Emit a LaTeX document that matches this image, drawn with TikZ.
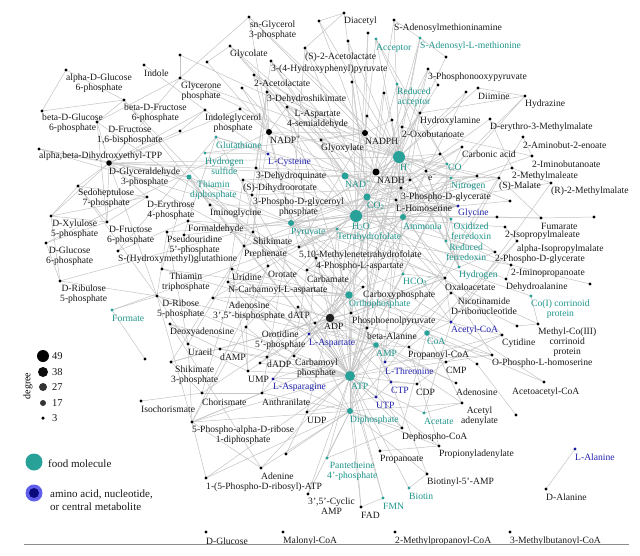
\documentclass[tikz,border=0pt]{standalone}
\usepackage{fontspec}
\setmainfont{Liberation Serif}
\definecolor{food}{RGB}{40,162,152}
\definecolor{foodtext}{RGB}{30,150,140}
\definecolor{amino}{RGB}{25,25,160}
\definecolor{aminotext}{RGB}{35,35,175}
\definecolor{edgec}{RGB}{196,196,196}
\definecolor{legblue}{RGB}{95,95,235}
\definecolor{legdark}{RGB}{10,10,125}
\pgfdeclarelayer{bg}
\pgfdeclarelayer{edges}
\pgfsetlayers{bg,edges,main}
\tikzset{
 dotb/.style={circle,inner sep=0pt,minimum size=3.2pt,fill=black},
 dott/.style={circle,inner sep=0pt,minimum size=3.2pt,fill=food},
 dotu/.style={circle,inner sep=0pt,minimum size=3.2pt,fill=amino},
 lab/.style={inner sep=0pt,anchor=west,align=center,font=\fontsize{9.6}{10}\selectfont,text=black!90},
 tlab/.style={lab,text=foodtext},
 ulab/.style={lab,text=aminotext},
 edge/.style={draw=edgec,line width=0.5pt},
}
\newcommand\metab[6]{\node[#2] (#1) at (#3) {}; \node[#4] (#1-t) at (#5) {#6};}
\begin{document}
\begin{tikzpicture}[x=1pt,y=-1pt]
\useasboundingbox (0,0) rectangle (640,555);
\begin{pgfonlayer}{bg}
\fill[white] (0,0) rectangle (640,555);
\end{pgfonlayer}
% ---------- metabolites ----------
\metab{aDG6P}{dotb}{66,70}{lab}{66,83}{alpha-D-Glucose\\6-phosphate}
\metab{indole}{dotb}{144,65}{lab}{144,73}{Indole}
\metab{glycerone}{dotb}{180,78}{lab}{181,91}{Glycerone\\phosphate}
\metab{bDF6P}{dotb}{124,100}{lab}{124,113}{beta-D-Fructose\\6-phosphate}
\metab{bDG6P}{dotb}{42,111}{lab}{42,123}{beta-D-Glucose\\6-phosphate}
\metab{DF16BP}{dotb}{97,122}{lab}{97,135}{D-Fructose\\1,6-bisphosphate}
\metab{indolegp}{dotb}{205,110}{lab}{205,123}{Indoleglycerol\\phosphate}
\metab{abDHE}{dotb}{39,149}{lab}{39,156}{alpha,beta-Dihydroxyethyl-TPP}
\metab{DGA3P}{dotb,minimum size=5.5pt}{109,163}{lab}{109,177}{D-Glyceraldehyde\\3-phosphate}
\metab{sedo}{dotb}{78,186}{lab}{78,198.5}{Sedoheptulose\\7-phosphate}
\metab{H2S}{dott}{205,153}{tlab}{205,166}{Hydrogen\\sulfide}
\metab{glutathione}{dott}{216,137}{tlab}{216,145}{Glutathione}
\metab{TDP}{dott,minimum size=5pt}{189,177}{tlab}{190,190}{Thiamin\\diphosphate}
\metab{snG3P}{dotb}{249,17}{lab}{249,30}{sn-Glycerol\\3-phosphate}
\metab{diacetyl}{dotb}{344,13}{lab}{344,21}{Diacetyl}
\metab{SAMamine}{dotb}{394,20}{lab}{394,28}{S-Adenosylmethioninamine}
\metab{acceptor}{dott}{376,39}{tlab}{376,48}{Acceptor}
\metab{SAM}{dott}{420,38}{tlab}{420,46}{S-Adenosyl-L-methionine}
\metab{S2AL}{dotb}{305,48}{lab}{305,57}{(S)-2-Acetolactate}
\metab{HPP}{dotb}{271,61}{lab}{271,69}{3-(4-Hydroxyphenyl)pyruvate}
\metab{glycolate}{dotb}{230,46}{lab}{230,54}{Glycolate}
\metab{AL2}{dotb}{254,75}{lab}{254,83}{2-Acetolactate}
\metab{DHS}{dotb}{267,92}{lab}{267,99}{3-Dehydroshikimate}
\metab{LAsa}{dotb}{287,107}{lab}{287,119.5}{L-Aspartate\\4-semialdehyde}
\metab{NADP}{dotb,minimum size=6pt}{269,132}{lab}{270,139.5}{NADP\textsuperscript{+}}
\metab{glyoxylate}{dotb}{321,140}{lab}{321,148}{Glyoxylate}
\metab{NADPH}{dotb,minimum size=6pt}{365,133}{lab}{365,141}{NADPH}
\metab{redacc}{dott}{397,84}{tlab}{397,97}{Reduced\\acceptor}
\metab{oxobut}{dotb}{402,127}{lab}{402,134}{2-Oxobutanoate}
\metab{hydroxylamine}{dotb}{420,113}{lab}{420,121}{Hydroxylamine}
\metab{Lcys}{dotu}{268,154}{ulab}{268,162}{L-Cysteine}
\metab{DHQ}{dotb}{256,168}{lab}{256,176}{3-Dehydroquinate}
\metab{DHO}{dotb}{243,180}{lab}{243,188}{(S)-Dihydroorotate}
\metab{Hplus}{dott,minimum size=12pt}{399,157}{tlab}{400,167}{H\textsuperscript{+}}
\metab{NADH}{dotb,minimum size=7pt}{376,172}{lab}{377,180}{NADH}
\metab{NADplus}{dott,minimum size=7pt}{345,176}{tlab}{345,184}{NAD\textsuperscript{+}}
\metab{PG3}{dotb}{401,188}{lab}{401,197}{3-Phospho-D-glycerate}
\metab{homoser}{dotb}{396,200}{lab}{396,208}{L-Homoserine}
\metab{carbonic}{dotb}{462,147}{lab}{462,154}{Carbonic acid}
\metab{CO}{dott}{447,164}{tlab}{448,167}{CO}
\metab{eminus}{dotb}{426,171}{lab}{428,178}{e\textsuperscript{−}}
\metab{nitrogen}{dott}{451,178}{tlab}{451,186}{Nitrogen}
\metab{malate}{dotb}{499,178}{lab}{499,186}{(S)-Malate}
\metab{mmaleate}{dotb}{512,168}{lab}{512,176}{2-Methylmaleate}
\metab{iminobut}{dotb}{532,156}{lab}{532,164}{2-Iminobutanoate}
\metab{aminobut}{dotb}{523,137}{lab}{523,145}{2-Aminobut-2-enoate}
\metab{erythro}{dotb}{490,119}{lab}{490,127}{D-erythro-3-Methylmalate}
\metab{hydrazine}{dotb}{525,96}{lab}{525,104}{Hydrazine}
\metab{diimine}{dotb}{478,88}{lab}{478,96}{Diimine}
\metab{PHP}{dotb}{428,69}{lab}{428,77}{3-Phosphonooxypyruvate}
\metab{R2MM}{dotb}{551,183}{lab}{551,191}{(R)-2-Methylmalate}
\metab{glycine}{dotu}{458,206}{ulab}{458,213}{Glycine}
\metab{fumarate}{dotb}{541,218}{lab}{541,226}{Fumarate}
\metab{IPM2}{dotb}{505,227}{lab}{505,235}{2-Isopropylmaleate}
\metab{aIPM}{dotb}{517,241}{lab}{517,249}{alpha-Isopropylmalate}
\metab{oxfd}{dott}{451,219}{tlab}{451,231}{Oxidized\\ferredoxin}
\metab{redfd}{dott}{446,241}{tlab}{446,252}{Reduced\\ferredoxin}
\metab{PG2}{dotb}{495,252}{lab}{495,259}{2-Phospho-D-glycerate}
\metab{iminoprop}{dotb}{511,265}{lab}{511,273}{2-Iminopropanoate}
\metab{hydrogen}{dott}{459,267}{tlab}{459,275}{Hydrogen}
\metab{dehydroala}{dotb}{506,279}{lab}{506,287}{Dehydroalanine}
\metab{oxaloacetate}{dotb}{445,278}{lab}{445,287}{Oxaloacetate}
\metab{CO2}{dott,minimum size=7pt}{367,197}{tlab}{367,206}{CO\textsubscript{2}}
\metab{HCO3}{dott}{403,274}{tlab}{403,282}{HCO\textsubscript{3}\textsuperscript{−}}
\metab{NMN}{dotb}{451,293}{lab}{451,306}{Nicotinamide\\D-ribonucleotide}
\metab{CoI}{dott}{531,296}{tlab}{531,309}{Co(I) corrinoid\\protein}
\metab{MeCo}{dotb}{538,324}{lab}{538,342}{Methyl-Co(III)\\corrinoid\\protein}
\metab{acetylCoA}{dotu}{451,322}{ulab}{451,330}{Acetyl-CoA}
\metab{cytidine}{dotb}{502,335}{lab}{502,343}{Cytidine}
\metab{CoA}{dott,minimum size=5.5pt}{427,333}{tlab}{427,341}{CoA}
\metab{OPHS}{dotb}{492,355}{lab}{492,363}{O-Phospho-L-homoserine}
\metab{CMP}{dotb}{446,362}{lab}{446,370}{CMP}
\metab{propCoA}{dotb}{409,347}{lab}{408,355}{Propanoyl-CoA}
\metab{acacCoA}{dotb}{544,382}{lab}{512,392}{Acetoacetyl-CoA}
\metab{adenosine}{dotb}{456,383}{lab}{456,392}{Adenosine}
\metab{CDP}{dotb}{417,384}{lab}{416,392}{CDP}
\metab{acadenylate}{dotb}{462,403}{lab}{461,416}{Acetyl\\adenylate}
\metab{acetate}{dott}{424,413}{tlab}{424,421}{Acetate}
\metab{dephosphoCoA}{dotb}{402,428}{lab}{402,437}{Dephospho-CoA}
\metab{propadenylate}{dotb}{439,446}{lab}{439,454}{Propionyladenylate}
\metab{biotinylAMP}{dotb}{427,474}{lab}{427,482}{Biotinyl-5'-AMP}
\metab{biotin}{dott}{409,488}{tlab}{409,496}{Biotin}
\metab{Lala}{dotu}{575,449}{ulab}{575,457}{L-Alanine}
\metab{Dala}{dotb}{546,489}{lab}{546,497}{D-Alanine}
\metab{MBCoA}{dotb}{510,532}{lab}{510,541}{3-Methylbutanoyl-CoA}
\metab{dADP}{dotb}{267,357}{lab}{267,364}{dADP}
\metab{Lasn}{dotu}{273,379}{ulab}{273,387}{L-Asparagine}
\metab{ATP}{dott,minimum size=10pt}{350,376}{tlab}{351,386}{ATP}
\metab{chorismate}{dotb}{202,393}{lab}{202,402}{Chorismate}
\metab{anthranilate}{dotb}{262,393}{lab}{262,402}{Anthranilate}
\metab{UDP}{dotb}{307,412}{lab}{307,420}{UDP}
\metab{diphosphate}{dott,minimum size=6pt}{350,411}{tlab}{350,420}{Diphosphate}
\metab{UTP}{dotu}{376,397}{ulab}{376,405}{UTP}
\metab{CTP}{dotu}{391,382}{ulab}{391,390}{CTP}
\metab{Lthr}{dotu}{385,362}{ulab}{385,371}{L-Threonine}
\metab{AMP}{dott,minimum size=5.5pt}{376,345}{tlab}{376,353}{AMP}
\metab{bala}{dotb}{367,328}{lab}{367,336}{beta-Alanine}
\metab{PRPP}{dotb}{192,422}{lab}{192,435}{5-Phospho-alpha-D-ribose\\1-diphosphate}
\metab{pantetheine}{dott}{327,458}{tlab}{327,471}{Pantetheine\\4'-phosphate}
\metab{propanoate}{dotb}{380,451}{lab}{380,459}{Propanoate}
\metab{adenine}{dotb}{261,468}{lab}{261,476}{Adenine}
\metab{PRATP}{dotb}{206,478}{lab}{206,487}{1-(5-Phospho-D-ribosyl)-ATP}
\metab{cAMP}{dotb}{308,494}{lab}{308,506}{3',5'-Cyclic\\AMP}
\metab{FAD}{dotb}{361,507}{lab}{361,515}{FAD}
\metab{FMN}{dott}{383,498}{tlab}{383,506}{FMN}
\metab{Dglucose}{dotb}{206,532}{lab}{206,541}{D-Glucose}
\metab{malonylCoA}{dotb}{283,532}{lab}{283,541}{Malonyl-CoA}
\metab{MPCoA}{dotb}{395,532}{lab}{395,541}{2-Methylpropanoyl-CoA}
\metab{isochorismate}{dotb}{141,401}{lab}{141,409}{Isochorismate}
\metab{S3P}{dotb}{171,362}{lab}{171,375}{Shikimate\\3-phosphate}
\metab{DE4P}{dotb}{147,197}{lab}{147,210}{D-Erythrose\\4-phosphate}
\metab{DX5P}{dotb}{51,216}{lab}{51,229}{D-Xylulose\\5-phosphate}
\metab{DF6P}{dotb}{107,222}{lab}{107,235}{D-Fructose\\6-phosphate}
\metab{DG6P}{dotb}{46,243}{lab}{46,256}{D-Glucose\\6-phosphate}
\metab{formaldehyde}{dotb}{188,221}{lab}{188,229}{Formaldehyde}
\metab{pseudouridine}{dotb}{167,232}{lab}{167,245}{Pseudouridine\\5'-phosphate}
\metab{SHMG}{dotb}{118,251}{lab}{118,259.5}{S-(Hydroxymethyl)glutathione}
\metab{TTP}{dotb}{162,269}{lab}{162,282}{Thiamin\\triphosphate}
\metab{DRu5P}{dotb}{60,281}{lab}{60,294}{D-Ribulose\\5-phosphate}
\metab{formate}{dott}{112,310}{tlab}{112,318}{Formate}
\metab{DR5P}{dotb}{157,296}{lab}{157,309}{D-Ribose\\5-phosphate}
\metab{PAP}{dotb}{213,298}{lab}{213,311.5}{Adenosine\\3',5'-bisphosphate}
\metab{deoxyadenosine}{dotb}{170,324}{lab}{170,332}{Deoxyadenosine}
\metab{uracil}{dotb}{188,344}{lab}{188,352}{Uracil}
\metab{dAMP}{dotb}{220,349}{lab}{220,357}{dAMP}
\metab{PGP}{dotb}{252,195}{lab}{253,207}{3-Phospho-D-glyceroyl\\phosphate}
\metab{iminoglycine}{dotb}{210,205}{lab}{210,213}{Iminoglycine}
\metab{pyruvate}{dott,minimum size=6pt}{291,223}{tlab}{291,232}{Pyruvate}
\metab{H2O}{dott,minimum size=12pt}{356,216}{tlab}{352,227}{H\textsubscript{2}O}
\metab{THF}{dott}{337,229}{tlab}{337,237}{Tetrahydrofolate}
\metab{ammonia}{dott,minimum size=6pt}{403,217}{tlab}{403,226}{Ammonia}
\metab{shikimate}{dotb}{253,232}{lab}{253,241}{Shikimate}
\metab{prephenate}{dotb}{244,246}{lab}{244,254}{Prephenate}
\metab{MTHF}{dotb}{299,247}{lab}{299,255}{5,10-Methylenetetrahydrofolate}
\metab{PLasp}{dotb}{316,258}{lab}{316,266}{4-Phospho-L-aspartate}
\metab{uridine}{dotb}{232,269}{lab}{232,277}{Uridine}
\metab{orotate}{dotb}{268,266}{lab}{268,274}{Orotate}
\metab{carbamate}{dotb}{307,270}{lab}{307,279}{Carbamate}
\metab{NCLasp}{dotb}{228,282}{lab}{228,290}{N-Carbamoyl-L-aspartate}
\metab{orthophosphate}{dott,minimum size=7.5pt}{349,295}{tlab}{349,304}{Orthophosphate}
\metab{carboxyphosphate}{dotb}{363,287}{lab}{363,295}{Carboxyphosphate}
\metab{dATP}{dotb}{298,307}{lab}{288,315}{dATP}
\metab{ADP}{dotb,fill=black!88,minimum size=8.5pt}{330,318}{lab}{324,326}{ADP}
\metab{PEP}{dotb}{351,313}{lab}{352,321}{Phosphoenolpyruvate}
\metab{Lasp}{dotu}{309,334}{ulab}{309,343}{L-Aspartate}
\metab{OMP}{dotb}{246,327}{lab}{255,340.5}{Orotidine\\5'-phosphate}
\metab{carbamoylP}{dotb}{294,356}{lab}{295,368.5}{Carbamoyl\\phosphate}
\metab{UMP}{dotb}{248,371}{lab}{248,379}{UMP}
% unlabeled metabolites
\node[dotb] (u1) at (180,131) {};
\node[dotb] (u2) at (319,21) {};
\node[dotb] (u3) at (348,41) {};
\node[dotb] (u4) at (368,33) {};
\node[dotb] (u5) at (207,62) {};
\node[dotb] (u6) at (180,55) {};
\node[dotb] (u7) at (242,88) {};
\node[dotb] (u8) at (240,109) {};
\node[dotb] (u9) at (367,116) {};
\node[dotb] (u10) at (352,82) {};
\node[dotb] (u11) at (384,93) {};
\node[dotb] (u12) at (392,120) {};
\node[dotb] (u13) at (410,180) {};
\node[dotb] (u14) at (440,154) {};
\node[dotb] (u15) at (477,176) {};
\node[dotb] (u16) at (466,92) {};
\node[dotb] (u17) at (438,85) {};
\node[dotb] (u18) at (446,57) {};
\node[dotb] (u19) at (510,201) {};
\node[dotb] (u20) at (497,217) {};
\node[dotb] (u21) at (594,217) {};
\node[dotb] (u22) at (590,284) {};
\node[dotb] (u23) at (517,326) {};
\node[dotb] (u24) at (477,364) {};
\node[dotb] (u25) at (516,415) {};
\node[dotb] (u26) at (260,363) {};
\node[dotb] (u27) at (286,454) {};
\node[dotb] (u28) at (145,359) {};
\node[dotb] (u29) at (184,235) {};
\node[dotb] (u30) at (315,323) {};
% ---------- connectors ----------
\begin{pgfonlayer}{edges}
\foreach \a/\b in {aDG6P/bDG6P, aDG6P/bDF6P, bDG6P/bDF6P, bDF6P/DF16BP, bDF6P/ATP, bDF6P/ADP, DF16BP/DGA3P, DF16BP/glycerone, DF16BP/DF6P, DF16BP/orthophosphate, glycerone/DGA3P, glycerone/snG3P, glycerone/NADH, glycerone/Hplus, indole/indolegp, indolegp/DGA3P, indolegp/H2O, abDHE/TDP, abDHE/DGA3P, abDHE/pyruvate, DGA3P/sedo, DGA3P/DE4P, DGA3P/DX5P, DGA3P/DF6P, DGA3P/DR5P, DGA3P/PGP, DGA3P/NADplus, DGA3P/orthophosphate, DGA3P/NADH, DGA3P/TDP, DGA3P/Hplus, sedo/DR5P, sedo/DX5P, sedo/DE4P, sedo/DF6P, DE4P/DF6P, DE4P/DX5P, DX5P/DF6P, DX5P/DRu5P, DG6P/DF6P, DG6P/DRu5P, DG6P/NADP, DRu5P/DR5P, DRu5P/CO2, DR5P/formate, formate/u28, DR5P/PRPP, DR5P/ATP, DR5P/AMP, DR5P/pseudouridine, DR5P/uracil, TTP/TDP, TTP/ADP, TTP/orthophosphate, pseudouridine/uracil, pseudouridine/H2O, formaldehyde/SHMG, formaldehyde/glutathione, formaldehyde/MTHF, formaldehyde/THF, SHMG/glutathione, uracil/UMP, uracil/PRPP, uracil/uridine, deoxyadenosine/dAMP, deoxyadenosine/ATP, deoxyadenosine/adenine, dAMP/dADP, dAMP/ATP, dADP/dATP, dADP/ADP, dATP/ADP, dATP/ATP, PAP/AMP, PAP/orthophosphate, PAP/H2O, u29/formaldehyde, u29/H2O, iminoglycine/glycine, iminoglycine/TDP, H2S/Lcys, H2S/NADPH, glutathione/Lcys, glutathione/glycine, glutathione/ATP, TDP/ATP, TDP/AMP, TDP/pyruvate, u1/DGA3P, u1/indolegp, u6/glycerone, u6/Hplus, u5/NADP, u5/glycolate,
snG3P/NADP, snG3P/NADPH, snG3P/Hplus, glycolate/glyoxylate, glycolate/NADplus, glycolate/NADH, HPP/prephenate, HPP/NADplus, HPP/CO2, HPP/NADH, AL2/pyruvate, AL2/CO2, AL2/Hplus, S2AL/diacetyl, S2AL/pyruvate, S2AL/CO2, S2AL/NADPH, diacetyl/CO2, diacetyl/u2, u2/Hplus, u2/NADH, SAMamine/SAM, SAMamine/CO2, SAMamine/Hplus, SAM/u18, SAM/ATP, SAM/diphosphate, SAM/orthophosphate, u18/Hplus, acceptor/redacc, acceptor/Hplus, acceptor/CO, acceptor/H2O, redacc/Hplus, redacc/CO, redacc/hydrogen, redacc/CO2, u3/Hplus, u3/NADPH, u4/NADPH, u4/H2O, DHS/DHQ, DHS/shikimate, DHS/NADP, DHS/NADPH, DHS/H2O, DHQ/H2O, DHQ/orthophosphate, shikimate/S3P, shikimate/NADP, shikimate/ATP, S3P/PEP, S3P/ADP, S3P/chorismate, chorismate/prephenate, chorismate/isochorismate, chorismate/anthranilate, chorismate/orthophosphate, anthranilate/PRPP, anthranilate/pyruvate, anthranilate/ammonia, anthranilate/diphosphate, prephenate/CO2, prephenate/H2O, LAsa/PLasp, LAsa/NADP, LAsa/NADPH, LAsa/homoser, LAsa/orthophosphate, PLasp/Lasp, PLasp/ATP, PLasp/ADP, homoser/NADP, homoser/NADPH, homoser/OPHS, OPHS/Lthr, OPHS/ATP, OPHS/ADP, OPHS/orthophosphate, Lthr/oxobut, Lthr/aminobut, Lthr/H2O, oxobut/iminobut, oxobut/ammonia, iminobut/aminobut, iminobut/H2O, u7/H2O, u7/NADP, u8/NADP, u8/DGA3P, glyoxylate/H2O, glyoxylate/NADPH, glyoxylate/acetylCoA, glyoxylate/malate, u9/Hplus, u9/NADPH, u10/H2O, u10/CO2, u11/Hplus, u11/NADH, u12/NADPH, u12/ammonia, hydroxylamine/ammonia, hydroxylamine/H2O, hydroxylamine/NADH, hydroxylamine/hydrazine, PHP/PG3, PHP/NADH, PHP/Hplus, PHP/u17, u17/H2O, diimine/hydrazine, diimine/Hplus, u16/ammonia, u16/Hplus, hydrazine/nitrogen, hydrazine/ammonia, erythro/mmaleate, erythro/H2O, mmaleate/R2MM, mmaleate/H2O, R2MM/acetylCoA, R2MM/pyruvate, malate/fumarate, malate/oxaloacetate, malate/NADplus, malate/NADH, malate/H2O, u15/Hplus, u15/CO2, carbonic/CO2, carbonic/H2O, carbonic/HCO3, CO/CO2, CO/Hplus, CO/H2O, eminus/Hplus, eminus/hydrogen, eminus/nitrogen, eminus/ATP, nitrogen/ammonia, nitrogen/Hplus, nitrogen/ATP, nitrogen/ADP, nitrogen/redfd, u14/Hplus, u14/NADH, u13/NADH, u13/Hplus, PG3/PGP, PG3/ATP, PG3/ADP, PG3/PG2, PG3/NADplus, PG2/PEP, PG2/H2O, u19/Hplus, u19/H2O, glycine/THF, glycine/MTHF, glycine/CO2, glycine/ammonia, glycine/NADH, u20/fumarate, fumarate/u21, u20/H2O, fumarate/H2O, IPM2/aIPM, IPM2/H2O, aIPM/acetylCoA, aIPM/CoA, oxfd/redfd, oxfd/Hplus, oxfd/CO2, oxfd/hydrogen, redfd/Hplus, redfd/hydrogen, redfd/CO, iminoprop/dehydroala, iminoprop/pyruvate, iminoprop/ammonia, iminoprop/u22, dehydroala/H2O, hydrogen/Hplus,
oxaloacetate/PEP, oxaloacetate/CO2, oxaloacetate/HCO3, oxaloacetate/pyruvate, oxaloacetate/Lasp, oxaloacetate/ATP, HCO3/carboxyphosphate, HCO3/ATP, HCO3/Hplus, carboxyphosphate/carbamate, carboxyphosphate/ADP, carboxyphosphate/orthophosphate, carbamate/ammonia, carbamate/carbamoylP, carbamate/CO2, carbamoylP/ADP, carbamoylP/ATP, carbamoylP/NCLasp, carbamoylP/orthophosphate, NCLasp/Lasp, NCLasp/DHO, NCLasp/orthophosphate, NCLasp/H2O, DHO/orotate, DHO/H2O, DHO/NADplus, orotate/OMP, orotate/PRPP, OMP/UMP, OMP/CO2, OMP/diphosphate, OMP/PRPP, UMP/ATP, UMP/ADP, UMP/uridine, UDP/UTP, UDP/ATP, UDP/ADP, UTP/CTP, UTP/ATP, UTP/ammonia, CTP/CDP, CTP/ADP, CTP/orthophosphate, CDP/CMP, CDP/ATP, CMP/cytidine, CMP/ADP, cytidine/ATP, cytidine/uridine, cytidine/ammonia, uridine/ATP, NMN/ATP, NMN/diphosphate, NMN/NADplus, CoI/MeCo, CoI/THF, MeCo/u23, u23/NMN, MeCo/THF, acetylCoA/CoA, acetylCoA/acetate, acetylCoA/acacCoA, acetylCoA/pyruvate, acetylCoA/oxaloacetate, acacCoA/CoA, CoA/propCoA, CoA/dephosphoCoA, CoA/acadenylate, CoA/u24, u24/u25, propCoA/propadenylate, propCoA/AMP, propadenylate/propanoate, propadenylate/diphosphate, propadenylate/ATP, propanoate/ATP, acetate/acadenylate, acetate/ATP, acadenylate/diphosphate, acadenylate/AMP, adenosine/AMP, adenosine/ADP, dephosphoCoA/ATP, dephosphoCoA/ADP, dephosphoCoA/pantetheine, dephosphoCoA/diphosphate, pantetheine/ATP, pantetheine/diphosphate, biotin/biotinylAMP, biotin/ATP, biotinylAMP/diphosphate, biotinylAMP/AMP, FMN/FAD, FMN/ATP, FMN/ADP, FAD/ATP, FAD/diphosphate, cAMP/ATP, cAMP/diphosphate, adenine/PRPP, adenine/AMP, adenine/diphosphate, PRATP/PRPP, PRATP/ATP, PRATP/diphosphate, u27/UDP, u27/diphosphate, PRPP/ATP, PRPP/AMP, PRPP/diphosphate, Lasn/Lasp, Lasn/ATP, Lasn/AMP, Lasn/ammonia, Lasn/diphosphate, Lasp/ATP, Lasp/ammonia, Lasp/bala, bala/CO2, bala/ATP, AMP/ATP, AMP/ADP, ATP/ADP, ATP/diphosphate, ATP/orthophosphate, ADP/orthophosphate, AMP/diphosphate, ATP/Hplus, ADP/Hplus, ATP/H2O, ADP/H2O, PEP/pyruvate, PEP/ADP, PEP/ATP, PEP/orthophosphate, PEP/CO2, MTHF/THF, MTHF/H2O, MTHF/NADP, MTHF/NADPH, THF/formate, THF/ATP, THF/ADP, pyruvate/CO2, pyruvate/NADH, pyruvate/H2O, pyruvate/CoA, pyruvate/Hplus, H2O/Hplus, H2O/CO2, H2O/ammonia, H2O/orthophosphate, H2O/NADplus, Hplus/NADH, Hplus/NADPH, Hplus/NADP, Hplus/CO2, NADplus/NADH, NADP/NADPH, CO2/HCO3, NADH/CO2, NADPH/CO2, Hplus/ammonia, dATP/diphosphate, u26/ATP, u26/dADP, u30/ADP, u30/ATP, Lala/Dala}
  \draw[edge] (\a.center) -- (\b.center);
\end{pgfonlayer}
% ---------- legend ----------
\node[rotate=90,font=\fontsize{10}{10}\selectfont] (degt) at (28,386) {degree};
\node[circle,inner sep=0pt,minimum size=12pt,fill=black] (d49) at (43,356) {};
\node[circle,inner sep=0pt,minimum size=10pt,fill=black!95] (d38) at (43,372) {};
\node[circle,inner sep=0pt,minimum size=8pt,fill=black!80] (d27) at (43,387) {};
\node[circle,inner sep=0pt,minimum size=6pt,fill=black!80] (d17) at (43,403) {};
\node[circle,inner sep=0pt,minimum size=3.5pt,fill=black] (d3) at (43,418) {};
\node[lab,font=\fontsize{10.5}{11}\selectfont] (t49) at (52,356) {49};
\node[lab,font=\fontsize{10.5}{11}\selectfont] (t38) at (52,372) {38};
\node[lab,font=\fontsize{10.5}{11}\selectfont] (t27) at (52,387) {27};
\node[lab,font=\fontsize{10.5}{11}\selectfont] (t17) at (52,403) {17};
\node[lab,font=\fontsize{10.5}{11}\selectfont] (t3) at (52,418) {3};
\node[circle,inner sep=0pt,minimum size=17pt,fill=food] (lfood) at (34,462) {};
\node[lab,font=\fontsize{11}{12}\selectfont] (lfoodt) at (48,464) {food molecule};
\node[circle,inner sep=0pt,minimum size=17pt,fill=legblue] (lamino) at (34,493) {};
\node[circle,inner sep=0pt,minimum size=10pt,fill=legdark] (laminoc) at (34,493) {};
\node[lab,align=left,font=\fontsize{11}{13.5}\selectfont] (laminot) at (50,500) {amino acid, nucleotide,\\or central metabolite};
\coordinate (base1) at (24,544);
\coordinate (base2) at (629,544);
\draw[black!45,line width=0.5pt] (base1) -- (base2);
\end{tikzpicture}
\end{document}
